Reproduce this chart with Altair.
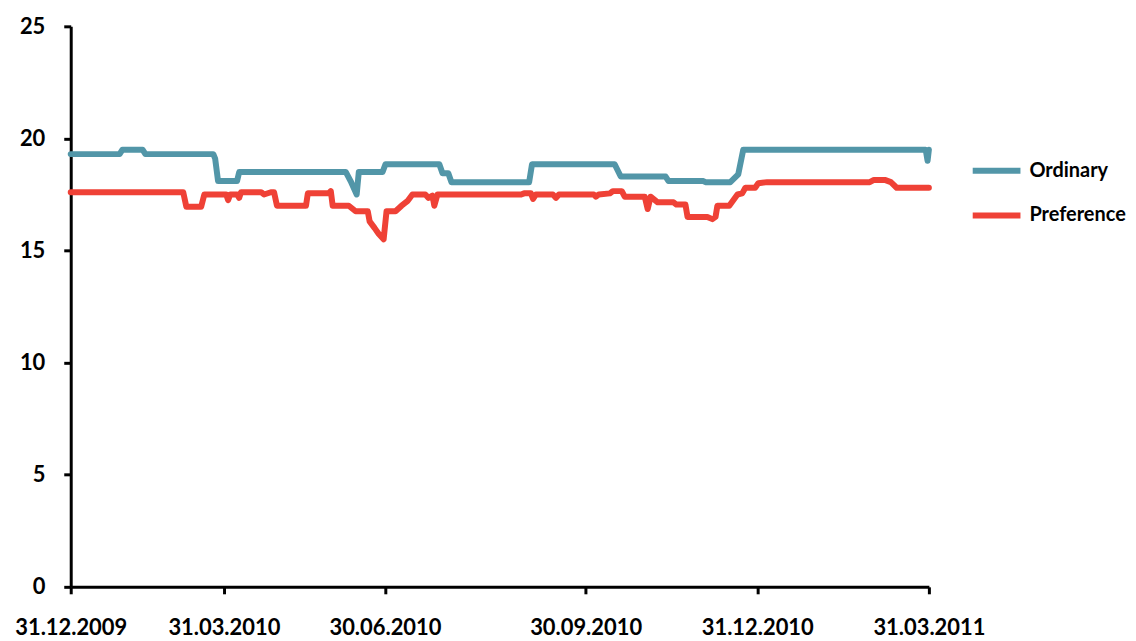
import altair as alt
import pandas as pd

# x = trading-day index along the category axis, y = value
ord_x = [0, 18.5, 19.6, 27.2, 28.3, 54.0, 54.7, 55.8, 63.0, 63.8, 104.2, 106.0, 108.3, 109.1,
         118.1, 119.2, 139.6, 140.8, 143.0, 144.2, 173.6, 174.7, 206.0, 208.3, 225.3, 226.4,
         239.6, 240.4, 249.8, 252.8, 254.7, 323.8, 324.5, 325]
ord_y = [19.3, 19.3, 19.5, 19.5, 19.3, 19.3, 19.1, 18.1, 18.1, 18.5, 18.5, 18.1, 17.5, 18.5,
         18.5, 18.85, 18.85, 18.45, 18.45, 18.05, 18.05, 18.85, 18.85, 18.3, 18.3, 18.1,
         18.1, 18.05, 18.05, 18.4, 19.5, 19.5, 19.0, 19.5]

pref_x = [0, 42.6, 43.8, 49.4, 50.6, 58.9, 59.6, 60.4, 63.0, 63.8, 64.5, 72.1, 73.2, 75.8,
          77.0, 78.1, 89.1, 89.8, 97.7, 98.5, 99.2, 105.3, 107.9, 112.5, 113.2, 115.1, 116.6,
          118.5, 119.6, 123.0, 125.3, 127.5, 129.4, 134.3, 135.5, 137.0, 137.7, 138.9, 170.6,
          171.7, 174.3, 175.1, 176.2, 182.6, 183.8, 184.9, 198.1, 198.9, 200.0, 204.2, 205.3,
          208.7, 209.8, 217.4, 218.5, 219.6, 222.3, 228.3, 229.4, 232.8, 233.6, 241.1, 243.0,
          244.2, 244.9, 249.4, 252.5, 254.3, 255.5, 259.2, 260.4, 263.8, 302.6, 304.2, 308.3,
          310.6, 312.8, 325]
pref_y = [17.6, 17.6, 16.95, 16.95, 17.5, 17.5, 17.25, 17.5, 17.5, 17.35, 17.6, 17.6, 17.5,
          17.6, 17.6, 17.0, 17.0, 17.55, 17.55, 17.65, 17.0, 17.0, 16.75, 16.75, 16.3, 16.0,
          15.75, 15.5, 16.75, 16.75, 17.0, 17.2, 17.5, 17.5, 17.35, 17.45, 17.0, 17.5, 17.5,
          17.55, 17.55, 17.3, 17.5, 17.5, 17.35, 17.5, 17.5, 17.4, 17.5, 17.55, 17.65, 17.65,
          17.4, 17.4, 16.85, 17.4, 17.15, 17.15, 17.05, 17.05, 16.5, 16.5, 16.4, 16.5, 17.0,
          17.0, 17.5, 17.55, 17.8, 17.8, 18.0, 18.05, 18.05, 18.15, 18.15, 18.05, 17.8, 17.8]

tick_vals = [0, 58, 119, 195, 260, 325]
tick_labels = ["31.12.2009", "31.03.2010", "30.06.2010", "30.09.2010", "31.12.2010", "31.03.2011"]
y_ticks = [0, 5, 10, 15, 20, 25]

series = ["Ordinary", "Preference"]
colors = ["#5296a8", "#ef4136"]

df = pd.concat([
    pd.DataFrame({"x": ord_x, "y": ord_y, "series": series[0]}),
    pd.DataFrame({"x": pref_x, "y": pref_y, "series": series[1]}),
], ignore_index=True)

label_expr = " : ".join(
    f"datum.value == {v} ? '{l}'" for v, l in zip(tick_vals, tick_labels)
) + " : ''"

font = "Lato"

chart = alt.Chart(df).mark_line(
    strokeWidth=6, strokeCap="round", strokeJoin="round", interpolate="linear"
).encode(
    x=alt.X("x:Q", scale=alt.Scale(domain=[0, 325], nice=False, zero=False),
            axis=alt.Axis(values=tick_vals, labelExpr=label_expr, title=None, grid=False,
                          labelPadding=24, labelOverlap=False, labelFlush=False)),
    y=alt.Y("y:Q", scale=alt.Scale(domain=[0, 25], nice=False),
            axis=alt.Axis(values=y_ticks, title=None, grid=False, labelPadding=19)),
    color=alt.Color("series:N", scale=alt.Scale(domain=series, range=colors),
                    legend=alt.Legend(orient="none", legendX=903, legendY=118,
                                      symbolType="stroke", symbolStrokeWidth=6,
                                      symbolSize=2300, labelFontSize=20,
                                      labelFontWeight="bold", labelFont=font,
                                      labelColor="black", title=None, labelOffset=6,
                                      rowPadding=6, padding=0)),
    order=alt.Order("x:Q"),
).properties(
    width=862, height=563,
    autosize=alt.AutoSizeParams(type="none"),
    padding={"left": 63, "top": 17, "right": 200, "bottom": 53},
).configure_view(stroke=None).configure_axis(
    domainColor="black", domainWidth=3, tickColor="black", tickWidth=3, tickSize=7,
    labelColor="black", labelFont=font, labelFontWeight="bold", labelFontSize=22,
)

chart.save("out.html", embed_options={"renderer": "svg", "actions": False})
